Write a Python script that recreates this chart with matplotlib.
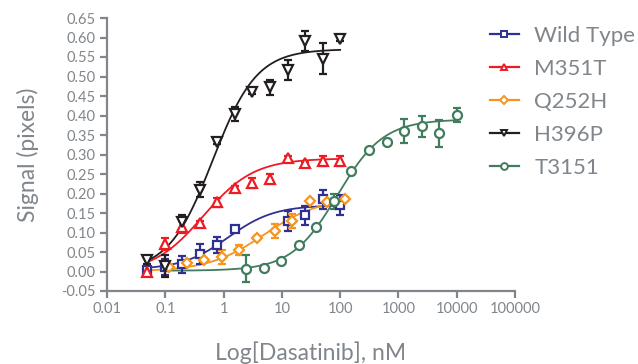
import numpy as np
import matplotlib
matplotlib.use("Agg")
import matplotlib.pyplot as plt

plt.rcParams['font.family'] = ['Lato', 'DejaVu Sans']

# concentrations (nM) and signal
conc_12 = [0.0488, 0.0977, 0.195, 0.39, 0.78, 1.56, 3.125, 6.25, 12.5, 25, 50, 100]

wt_x = [0.0488, 0.0977, 0.195, 0.39, 0.78, 1.56, 12.5, 25, 50, 100]
wt_y = [0.005, 0.012, 0.018, 0.045, 0.068, 0.108, 0.13, 0.144, 0.185, 0.17]
wt_err = [0.008, 0.02, 0.022, 0.025, 0.02, 0.005, 0.025, 0.025, 0.025, 0.025]

m351t_x = conc_12
m351t_y = [0.0, 0.07, 0.115, 0.125, 0.177, 0.215, 0.228, 0.238, 0.29, 0.277, 0.284, 0.284]
m351t_err = [0.005, 0.015, 0.015, 0.005, 0.012, 0.005, 0.013, 0.013, 0.005, 0.005, 0.013, 0.013]

q252h_x = [0.117, 0.234, 0.469, 0.9375, 1.875, 3.75, 7.5, 15, 30, 60, 120]
q252h_y = [0.012, 0.021, 0.03, 0.036, 0.056, 0.087, 0.105, 0.13, 0.18, 0.179, 0.185]
q252h_err = [0.005, 0.005, 0.005, 0.018, 0.013, 0.005, 0.018, 0.018, 0.005, 0.005, 0.005]

h396p_x = conc_12
h396p_y = [0.03, 0.015, 0.127, 0.21, 0.331, 0.404, 0.46, 0.472, 0.517, 0.591, 0.546, 0.596]
h396p_err = [0.01, 0.028, 0.017, 0.02, 0.005, 0.017, 0.005, 0.02, 0.025, 0.026, 0.04, 0.005]

t3151_x = [2.44, 4.88, 9.77, 19.5, 39.1, 78.1, 156, 312, 625, 1250, 2500, 5000, 10000]
t3151_y = [0.007, 0.01, 0.027, 0.068, 0.113, 0.18, 0.258, 0.311, 0.333, 0.36, 0.373, 0.354, 0.401]
t3151_err = [0.035, 0.005, 0.005, 0.005, 0.005, 0.02, 0.005, 0.005, 0.005, 0.03, 0.027, 0.035, 0.018]

# fitted dose-response curves: bottom, top, EC50, hill, x range
wt_fit = [0.005, 0.17, 1.2, 1.1, 0.0488, 100]
m351t_fit = [-0.005, 0.29, 0.45, 1.0, 0.0488, 100]
q252h_fit = [0.0, 0.19, 5.0, 0.9, 0.0488, 120]
h396p_fit = [0.0, 0.57, 0.65, 1.15, 0.0488, 100]
t3151_fit = [0.002, 0.39, 90, 1.1, 0.0977, 10000]

series = [
    ("Wild Type", wt_x, wt_y, wt_err, wt_fit, "#2e3192", "s", 6),
    ("M351T", m351t_x, m351t_y, m351t_err, m351t_fit, "#ed1c24", "^", 6.5),
    ("Q252H", q252h_x, q252h_y, q252h_err, q252h_fit, "#f7941d", "D", 5),
    ("H396P", h396p_x, h396p_y, h396p_err, h396p_fit, "#231f20", "v", 6.5),
    ("T3151", t3151_x, t3151_y, t3151_err, t3151_fit, "#417c5d", "o", 6.5),
]

grey = "#80868b"

fig = plt.figure(figsize=(6.38, 3.64), dpi=100)
ax = fig.add_axes([107/638, 1-291/364, (515-107)/638, (291-18)/364])

handles = []
for name, x, y, err, fit, col, mk, ms in series:
    bot, top, ec, h, x0, x1 = fit
    xs = np.logspace(np.log10(x0), np.log10(x1), 200)
    ax.plot(xs, bot + (top - bot) / (1 + (ec / xs) ** h), color=col, lw=1.3, zorder=2)
    ax.errorbar(x, y, yerr=err, fmt='none', ecolor=col, elinewidth=1.6,
                capsize=3, capthick=1.6, zorder=3)
    ax.plot(x, y, ls='none', marker=mk, ms=ms, mfc='white', mec=col, mew=1.6,
            zorder=4, clip_on=False)
    hd, = ax.plot([], [], color=col, lw=1.6, marker=mk, ms=ms*0.75,
                  mfc='white', mec=col, mew=1.4)
    handles.append((hd, name))

ax.set_xscale('log')
ax.set_xlim(0.01, 100000)
ax.set_ylim(-0.05, 0.65)
ax.set_xticks([0.01, 0.1, 1, 10, 100, 1000, 10000, 100000])
ax.set_xticklabels(["0.01", "0.1", "1", "10", "100", "1000", "10000", "100000"])
ax.xaxis.set_minor_locator(matplotlib.ticker.NullLocator())
yt = np.round(np.arange(-0.05, 0.651, 0.05), 2)
ax.set_yticks(yt)
ax.set_yticklabels([f"{v:.2f}" for v in yt])

for s in ['top', 'right']:
    ax.spines[s].set_visible(False)
for s in ['left', 'bottom']:
    ax.spines[s].set_color(grey)
    ax.spines[s].set_linewidth(1.6)
ax.tick_params(colors=grey, width=1.6, length=5, labelsize=10.5, pad=3)

ax.set_ylabel("Signal (pixels)", color=grey, fontsize=16.5, labelpad=16)
ax.set_xlabel("Log[Dasatinib], nM", color=grey, fontsize=16.5, labelpad=18)

leg = fig.legend([h for h, _ in handles], [n for _, n in handles],
                 loc='upper left', bbox_to_anchor=(490/638, 1-26/364),
                 frameon=False, fontsize=16, handlelength=1.3,
                 handletextpad=0.7, labelspacing=0.58, borderpad=0, borderaxespad=0)
for t in leg.get_texts():
    t.set_color(grey)

fig.savefig("out.png", dpi=100)
